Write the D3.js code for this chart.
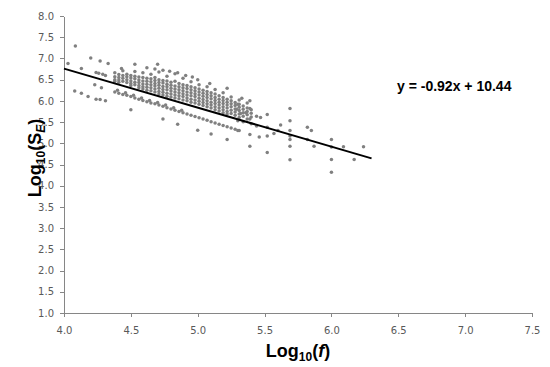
<!DOCTYPE html>
<html><head><meta charset="utf-8">
<script src="https://cdn.jsdelivr.net/npm/d3@7"></script>
<style>body{margin:0;background:#fff}svg{display:block}</style>
</head><body><svg id="c" width="550" height="367"></svg>
<script>
const xTicks=[4.0,4.5,5.0,5.5,6.0,6.5,7.0,7.5];
const yTicks=[1.0,1.5,2.0,2.5,3.0,3.5,4.0,4.5,5.0,5.5,6.0,6.5,7.0,7.5,8.0];
const fitSlope=-0.92, fitIntercept=10.44, fitRange=[4.0,6.3];
const equationLabel="y = -0.92x + 10.44";

// sparse points on the left and above the cluster
const leftPoints=[[4.03,6.88],[4.085,7.29],[4.13,6.76],[4.20,7.01],[4.27,6.94],[4.33,6.88],
[4.24,6.67],[4.26,6.65],[4.29,6.63],[4.31,6.60],[4.23,6.38],[4.28,6.31],
[4.08,6.23],[4.13,6.18],[4.18,6.10],[4.24,6.04],[4.27,6.03],[4.31,6.00],
[4.53,6.86],[4.62,6.78],[4.68,6.75],[4.74,6.72],[4.79,6.70],[4.85,6.66],[4.91,6.60],[4.96,6.56],
[5.00,6.50],[5.09,6.41],[5.22,6.30],[4.70,6.86],[4.43,6.76]];

// dense upper cluster, by column
const clusterX=[4.38,4.41,4.44,4.47,4.50,4.53,4.56,4.59,4.62,4.65,4.68,4.71,4.74,4.77,4.80,4.83,4.86,4.89,4.92,4.95,4.98,5.01,5.04,5.07,5.10,5.13,5.16,5.19,5.22,5.25,5.28,5.31,5.34,5.37,5.40];
const clusterY=[
[6.66,6.57,6.50,6.46],[6.62,6.55,6.49,6.44],[6.71,6.60,6.53,6.46],[6.63,6.57,6.50,6.43],
[6.60,6.54,6.47,6.41,6.36],[6.69,6.58,6.52,6.44,6.38],[6.56,6.49,6.43,6.36,6.31],
[6.66,6.55,6.47,6.40,6.33,6.28],[6.53,6.46,6.39,6.32,6.25],[6.63,6.52,6.45,6.38,6.31,6.24],
[6.55,6.48,6.41,6.35,6.28,6.21],[6.68,6.50,6.43,6.37,6.30,6.22,6.16],
[6.48,6.42,6.34,6.27,6.20,6.14],[6.58,6.47,6.39,6.33,6.26,6.18,6.11],
[6.44,6.37,6.30,6.23,6.16,6.09],[6.64,6.46,6.35,6.28,6.21,6.14,6.07],
[6.41,6.33,6.26,6.19,6.12,6.05],[6.53,6.38,6.31,6.24,6.17,6.10,6.02],
[6.36,6.29,6.21,6.14,6.07,6.00],[6.45,6.33,6.26,6.19,6.12,6.04,5.97],
[6.31,6.24,6.17,6.10,6.02,5.95],[6.38,6.28,6.21,6.14,6.06,5.99,5.92],
[6.25,6.18,6.11,6.03,5.96,5.89],[6.33,6.22,6.15,6.08,6.00,5.93,5.86],
[6.19,6.12,6.05,5.97,5.90,5.83],[6.27,6.16,6.08,6.01,5.94,5.86,5.79],
[6.12,6.04,5.97,5.90,5.83,5.76],[6.19,6.08,6.01,5.94,5.86,5.79,5.72],
[6.04,5.97,5.90,5.83,5.75,5.69],[6.09,6.00,5.93,5.86,5.78,5.70],
[5.96,5.89,5.81,5.74,5.66],[6.02,5.92,5.85,5.77,5.69,5.61],[5.88,5.80,5.72,5.64],
[5.95,5.83,5.75,5.67],[5.79,5.71,5.62]];

// lower band below the fit line
const bandPoints=[[4.38,6.21],[4.41,6.18],[4.44,6.15],[4.47,6.13],[4.50,6.10],[4.53,6.07],[4.56,6.04],
[4.59,6.01],[4.62,5.98],[4.65,5.95],[4.68,5.93],[4.71,5.90],[4.74,5.87],[4.77,5.84],[4.80,5.81],
[4.83,5.78],[4.86,5.75],[4.89,5.72],[4.92,5.69],[4.95,5.66],[4.98,5.63],[5.01,5.60],[5.04,5.57],
[5.07,5.54],[5.10,5.51],[5.13,5.48],[5.16,5.45],[5.19,5.42],[5.22,5.39],[5.25,5.36],[5.28,5.33],
[5.31,5.30],[4.40,6.25],[4.46,6.19],[4.52,6.13],[4.58,6.07],[4.64,6.01],[4.70,5.96],[4.76,5.90],
[4.82,5.84],[4.88,5.78],
[4.50,5.79],[4.74,5.57],[4.85,5.45],[5.00,5.31],[5.10,5.22],[5.22,5.09]];

// sparse points on the right
const rightPoints=[[5.33,6.06],[5.39,6.00],[5.30,5.92],[5.29,5.80],[5.32,5.70],[5.36,5.72],[5.39,5.82],
[5.44,5.64],[5.47,5.61],[5.52,5.68],[5.39,5.57],[5.30,5.53],[5.34,5.51],[5.37,5.57],[5.40,5.46],
[5.44,5.41],[5.52,5.38],[5.30,5.30],[5.39,5.21],[5.46,5.15],[5.52,5.17],[5.57,5.23],[5.60,5.30],
[5.62,5.43],[5.39,4.93],[5.52,4.78],[5.69,5.82],[5.69,5.53],[5.69,5.30],[5.69,5.17],[5.69,5.09],
[5.69,4.93],[5.69,4.61],[5.82,5.38],[5.85,5.30],[5.82,5.09],[5.87,4.93],
[6.00,5.09],[6.00,4.91],[6.00,4.62],[6.00,4.32],[6.09,4.92],[6.17,4.62],[6.24,4.92]];

const points=[...leftPoints,...bandPoints,...rightPoints];
clusterX.forEach((x,i)=>clusterY[i].forEach(y=>points.push([x,y])));

const svg=d3.select("#c");
const x=d3.scaleLinear().domain([4,7.5]).range([64,532]);
const y=d3.scaleLinear().domain([1,8]).range([313,16]);
const axisColor="#868686", labelColor="#595959";

const gx=svg.append("g").attr("transform","translate(0,313)")
  .call(d3.axisBottom(x).tickValues(xTicks).tickFormat(d3.format(".1f")).tickSize(4).tickSizeOuter(0));
const gy=svg.append("g").attr("transform","translate(64,0)")
  .call(d3.axisLeft(y).tickValues(yTicks).tickFormat(d3.format(".1f")).tickSize(4).tickSizeOuter(0));
[gx,gy].forEach(g=>{
  g.selectAll("path,line").attr("stroke",axisColor).attr("shape-rendering","crispEdges");
  g.selectAll("text").attr("fill",labelColor).attr("font-family","DejaVu Sans, Verdana, sans-serif").attr("font-size","10px");
});
gx.selectAll("text").attr("dy","1.35em");
gy.selectAll("text").attr("x",-10);

svg.append("g").selectAll("circle").data(points).join("circle")
  .attr("cx",d=>x(d[0])).attr("cy",d=>y(d[1])).attr("r",1.75).attr("fill","#808080");

svg.append("line")
  .attr("x1",x(fitRange[0])).attr("y1",y(fitSlope*fitRange[0]+fitIntercept))
  .attr("x2",x(fitRange[1])).attr("y2",y(fitSlope*fitRange[1]+fitIntercept))
  .attr("stroke","#000").attr("stroke-width",2);

svg.append("text").attr("x",397).attr("y",91)
  .attr("font-family","Liberation Sans, Arial, sans-serif").attr("font-weight","bold").attr("font-size","14px")
  .attr("fill","#000").text(equationLabel);

// x title
const xt=svg.append("text").attr("x",298).attr("y",357).attr("text-anchor","middle")
  .attr("font-family","Liberation Sans, Arial, sans-serif").attr("font-weight","bold").attr("font-size","18px").attr("fill","#000");
xt.append("tspan").text("Log");
xt.append("tspan").attr("font-size","12px").attr("dy",4).text("10");
xt.append("tspan").attr("dy",-4).text("(");
xt.append("tspan").attr("font-style","italic").text("f");
xt.append("tspan").text(")");

// y title
const yt=svg.append("text").attr("transform","translate(41,158) rotate(-90)").attr("text-anchor","middle")
  .attr("font-family","Liberation Sans, Arial, sans-serif").attr("font-weight","bold").attr("font-size","18px").attr("fill","#000");
yt.append("tspan").text("Log");
yt.append("tspan").attr("font-size","12px").attr("dy",4).text("10");
yt.append("tspan").attr("dy",-4).text("(S");
yt.append("tspan").attr("font-size","12px").attr("font-style","italic").attr("dy",4).text("E");
yt.append("tspan").attr("dy",-4).text(")");
</script></body></html>
